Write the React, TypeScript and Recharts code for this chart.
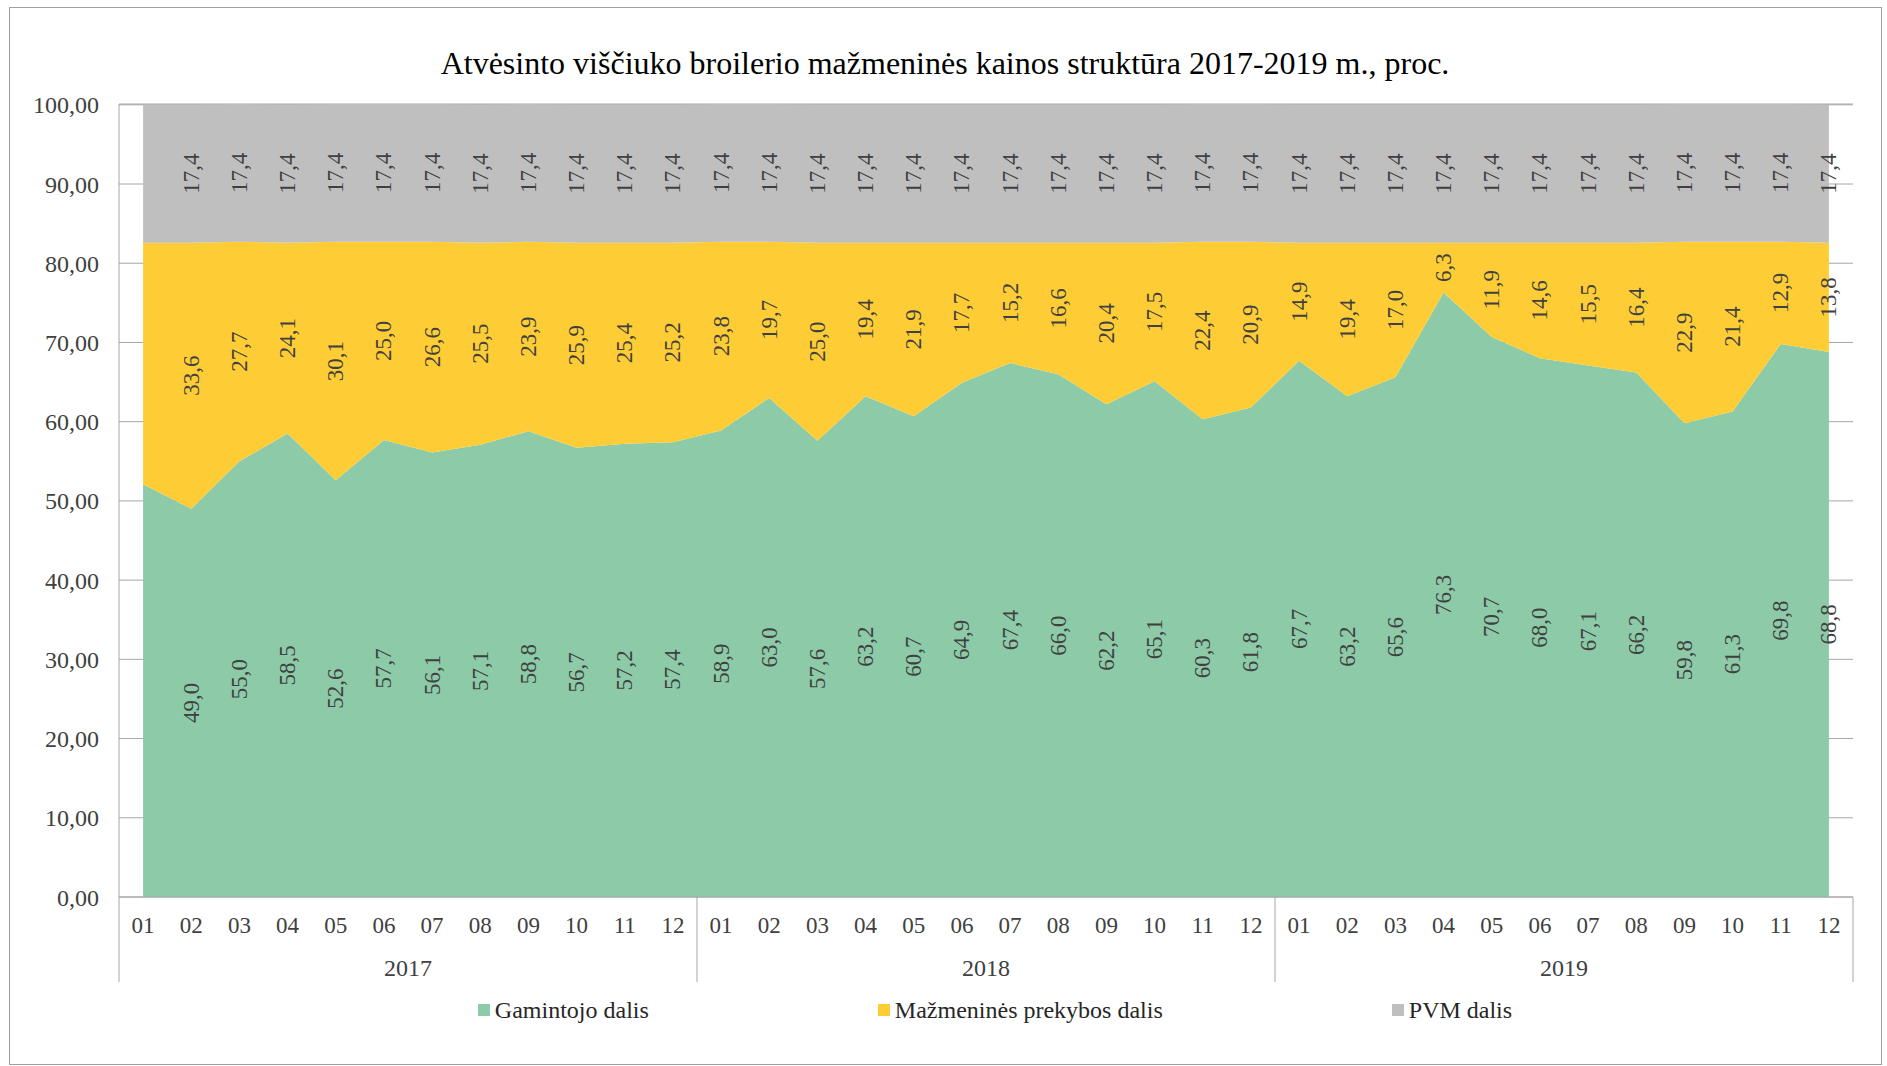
import React from 'react'
import { ComposedChart, Area, Line, XAxis, YAxis, CartesianGrid, Legend } from 'recharts'

const YEARS = ['2017', '2018', '2019']
const MONTHS = ['01', '02', '03', '04', '05', '06', '07', '08', '09', '10', '11', '12']

// Gamintojo dalis
const PRODUCER = [
  52.1, 49.0, 55.0, 58.5, 52.6, 57.7, 56.1, 57.1, 58.8, 56.7, 57.2, 57.4,
  58.9, 63.0, 57.6, 63.2, 60.7, 64.9, 67.4, 66.0, 62.2, 65.1, 60.3, 61.8,
  67.7, 63.2, 65.6, 76.3, 70.7, 68.0, 67.1, 66.2, 59.8, 61.3, 69.8, 68.8,
]
// Mažmeninės prekybos dalis
const RETAIL = [
  30.5, 33.6, 27.7, 24.1, 30.1, 25.0, 26.6, 25.5, 23.9, 25.9, 25.4, 25.2,
  23.8, 19.7, 25.0, 19.4, 21.9, 17.7, 15.2, 16.6, 20.4, 17.5, 22.4, 20.9,
  14.9, 19.4, 17.0, 6.3, 11.9, 14.6, 15.5, 16.4, 22.9, 21.4, 12.9, 13.8,
]
// PVM dalis
const VAT = [
  17.4, 17.4, 17.4, 17.4, 17.4, 17.4, 17.4, 17.4, 17.4, 17.4, 17.4, 17.4,
  17.4, 17.4, 17.4, 17.4, 17.4, 17.4, 17.4, 17.4, 17.4, 17.4, 17.4, 17.4,
  17.4, 17.4, 17.4, 17.4, 17.4, 17.4, 17.4, 17.4, 17.4, 17.4, 17.4, 17.4,
]
const Y_TICKS = [0, 10, 20, 30, 40, 50, 60, 70, 80, 90, 100]

const SERIES = [
  { key: 'producer', name: 'Gamintojo dalis', color: '#8ccaa8', values: PRODUCER },
  { key: 'retail', name: 'Mažmeninės prekybos dalis', color: '#fecd36', values: RETAIL },
  { key: 'vat', name: 'PVM dalis', color: '#bfbfbf', values: VAT },
]

const W = 1887
const H = 1066
const M = { top: 104, right: 34, left: 0, bottom: 28 }
const Y_AXIS_W = 119
const PLOT_W = W - M.left - M.right - Y_AXIS_W
const HALF_BAND = PLOT_W / 36 / 2
const X_AXIS_H = 85
const FONT = '"Liberation Serif", "Times New Roman", serif'
const TEXT = '#404040'
const LINE = '#a6a6a6'

const data = PRODUCER.map((p, i) => ({
  key: `${YEARS[Math.floor(i / 12)]}-${MONTHS[i % 12]}`,
  month: MONTHS[i % 12],
  year: YEARS[Math.floor(i / 12)],
  producer: p,
  retail: RETAIL[i],
  vat: VAT[i],
  // middle of each stacked band, used only to place the value labels
  producerMid: p / 2,
  retailMid: p + RETAIL[i] / 2,
  vatMid: p + RETAIL[i] + VAT[i] / 2,
}))

const fmt = (v: number) => v.toFixed(1).replace('.', ',')

const makeLabel = (values: number[]) => (props: any) => {
  const { x, y, index } = props
  if (index === 0 || x == null || y == null) return null
  return (
    <text
      key={`l-${index}`}
      x={x}
      y={y}
      transform={`rotate(-90 ${x} ${y})`}
      textAnchor="middle"
      dominantBaseline="central"
      fill={TEXT}
      fontSize={23}
      fontFamily={FONT}
    >
      {fmt(values[index])}
    </text>
  )
}

function MonthTick(props: any) {
  const { x, y, payload } = props
  const index = props.index ?? payload.index
  const d = data[index]
  return (
    <g>
      <text x={x} y={y + 28} textAnchor="middle" dominantBaseline="central" fill={TEXT} fontSize={23} fontFamily={FONT}>
        {d.month}
      </text>
      {index % 12 === 0 && (
        <line x1={x - HALF_BAND} x2={x - HALF_BAND} y1={y} y2={y + X_AXIS_H} stroke={LINE} />
      )}
      {index === data.length - 1 && (
        <line x1={x + HALF_BAND} x2={x + HALF_BAND} y1={y} y2={y + X_AXIS_H} stroke={LINE} />
      )}
      {index % 12 === 5 && (
        <text x={x + HALF_BAND} y={y + 71} textAnchor="middle" dominantBaseline="central" fill={TEXT} fontSize={24} fontFamily={FONT}>
          {d.year}
        </text>
      )}
    </g>
  )
}

function LegendBox() {
  return (
    <div
      style={{
        height: 56,
        display: 'flex',
        justifyContent: 'center',
        alignItems: 'center',
        gap: 229,
        paddingLeft: 18,
        fontFamily: FONT,
        fontSize: 24,
        color: '#262626',
      }}
    >
      {SERIES.map((s) => (
        <span key={s.key} style={{ display: 'flex', alignItems: 'center', gap: 5 }}>
          <span style={{ width: 12, height: 12, background: s.color, display: 'inline-block' }} />
          {s.name}
        </span>
      ))}
    </div>
  )
}

export default function App() {
  return (
    <div style={{ position: 'absolute', left: 0, top: 0, width: W, height: H, background: '#fff' }}>
      <div
        style={{
          position: 'absolute',
          left: 9,
          top: 7,
          width: 1871,
          height: 1056,
          border: '1px solid #a0a0a0',
        }}
      />
      <div
        style={{
          position: 'absolute',
          left: 9,
          top: 43,
          width: 1872,
          textAlign: 'center',
          fontFamily: FONT,
          fontSize: 32,
          color: '#000',
          lineHeight: '40px',
        }}
      >
        Atvėsinto viščiuko broilerio mažmeninės kainos struktūra 2017-2019 m., proc.
      </div>
      <div style={{ position: 'absolute', left: 0, top: 0 }}>
        <ComposedChart width={W} height={H} data={data} margin={M}>
          <CartesianGrid horizontal vertical={false} stroke={LINE} />
          <XAxis
            dataKey="key"
            interval={0}
            height={X_AXIS_H}
            tickLine={false}
            tickSize={0}
            tickMargin={0}
            axisLine={{ stroke: LINE }}
            padding={{ left: HALF_BAND, right: HALF_BAND }}
            tick={(p: any) => <MonthTick {...p} />}
          />
          <YAxis
            width={Y_AXIS_W}
            domain={[0, 100]}
            ticks={Y_TICKS}
            interval={0}
            tickLine={false}
            tickSize={0}
            tickMargin={20}
            axisLine={{ stroke: LINE }}
            tick={{ fill: TEXT, fontSize: 24, fontFamily: FONT }}
            tickFormatter={(v: number) => v.toFixed(2).replace('.', ',')}
          />
          <YAxis yAxisId="right" orientation="right" width={0} domain={[0, 100]} tick={false} tickLine={false} axisLine={{ stroke: LINE }} />
          {SERIES.map((s) => (
            <Area
              key={s.key}
              type="linear"
              dataKey={s.key}
              name={s.name}
              stackId="1"
              fill={s.color}
              fillOpacity={1}
              stroke="none"
              isAnimationActive={false}
              activeDot={false}
            />
          ))}
          <Line dataKey="producerMid" stroke="none" dot={false} activeDot={false} legendType="none" isAnimationActive={false} label={makeLabel(PRODUCER)} />
          <Line dataKey="retailMid" stroke="none" dot={false} activeDot={false} legendType="none" isAnimationActive={false} label={makeLabel(RETAIL)} />
          <Line dataKey="vatMid" stroke="none" dot={false} activeDot={false} legendType="none" isAnimationActive={false} label={makeLabel(VAT)} />
          <Legend
            verticalAlign="bottom"
            wrapperStyle={{ left: M.left + Y_AXIS_W, width: PLOT_W }}
            content={() => <LegendBox />}
          />
        </ComposedChart>
      </div>
    </div>
  )
}
